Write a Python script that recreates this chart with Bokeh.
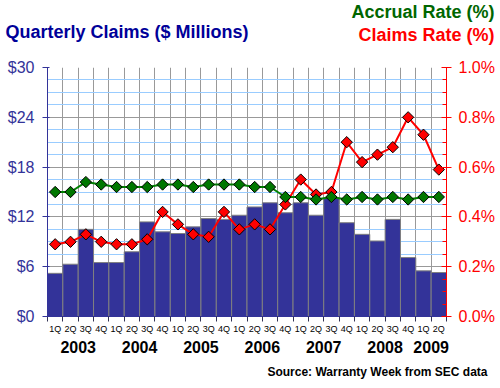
from bokeh.plotting import figure
from bokeh.models import (Range1d, LinearAxis, FixedTicker, PrintfTickFormatter, Title)
from bokeh.embed import file_html
from bokeh.resources import INLINE

# ---- data ----
quarters = ["1Q", "2Q", "3Q", "4Q"] * 6 + ["1Q", "2Q"]
years = ["2003", "2004", "2005", "2006", "2007", "2008", "2009"]
year_centres = [2, 6, 10, 14, 18, 22, 25]
claims = [5.2, 6.3, 10.5, 6.5, 6.5, 7.8, 11.4, 10.2, 10.0, 10.8, 11.8, 11.7, 12.2,
          13.2, 13.7, 12.5, 13.7, 12.2, 14.3, 11.3, 9.9, 9.1, 11.7, 7.1, 5.5, 5.3]
accrual_rate = [0.50, 0.50, 0.54, 0.53, 0.52, 0.52, 0.52, 0.53, 0.53, 0.52, 0.53, 0.53, 0.53,
                0.52, 0.52, 0.48, 0.48, 0.47, 0.48, 0.47, 0.48, 0.47, 0.48, 0.47, 0.48, 0.48]
claims_rate = [0.29, 0.30, 0.33, 0.30, 0.29, 0.29, 0.31, 0.42, 0.37, 0.33, 0.32, 0.42, 0.35,
               0.37, 0.35, 0.45, 0.55, 0.49, 0.50, 0.70, 0.62, 0.65, 0.68, 0.80, 0.73, 0.59]
left_ticks = [0, 6, 12, 18, 24, 30]
right_ticks = [0.0, 0.2, 0.4, 0.6, 0.8, 1.0]

n = len(claims)
xc = [i + 0.5 for i in range(n)]
FONT = "Liberation Sans"

p = figure(frame_width=399, frame_height=249, output_backend="svg", toolbar_location=None,
           title=None, x_range=Range1d(0, n), y_range=Range1d(0, 30),
           min_border_left=47, min_border_right=54, min_border_top=67, min_border_bottom=72,
           background_fill_color="white", border_fill_color="white")
p.outline_line_color = None
p.extra_y_ranges = {"rate": Range1d(0, 1.0)}

# grids
p.ygrid.ticker = FixedTicker(ticks=left_ticks, minor_ticks=[x * 1.5 for x in range(21)])
p.ygrid.grid_line_color = "#999999"
p.ygrid.minor_grid_line_color = "#99CCFF"
p.xgrid.ticker = FixedTicker(ticks=list(range(n + 1)))
p.xgrid.grid_line_color = "#999999"

# bars
p.vbar(x=xc, top=claims, width=1.0, fill_color="#333399", line_color="#808080", line_width=1)

# rate lines
p.line(xc, claims_rate, y_range_name="rate", line_color="#FF0000", line_width=2)
p.scatter(xc, claims_rate, y_range_name="rate", marker="square", angle=0.785398, size=8,
          fill_color="#FF0000", line_color="black", line_width=1)
p.line(xc, accrual_rate, y_range_name="rate", line_color="#008000", line_width=2)
p.scatter(xc, accrual_rate, y_range_name="rate", marker="square", angle=0.785398, size=8,
          fill_color="#007700", line_color="black", line_width=1)

# left axis
ya = p.yaxis[0]
ya.ticker = FixedTicker(ticks=left_ticks, minor_ticks=[])
ya.formatter = PrintfTickFormatter(format="$%d")
ya.major_label_text_font = FONT
ya.major_label_text_font_size = "16px"
ya.major_label_text_color = "#333399"
ya.axis_line_color = "#333399"
ya.major_tick_line_color = "#333399"
ya.major_tick_out = 5
ya.major_tick_in = 2
ya.major_label_standoff = 8

# right axis
ra = LinearAxis(y_range_name="rate")
ra.ticker = FixedTicker(ticks=right_ticks, minor_ticks=[x * 0.05 for x in range(21)])
ra.formatter = PrintfTickFormatter(format="%.1f%%")
ra.major_label_text_font = FONT
ra.major_label_text_font_size = "16px"
ra.major_label_text_color = "#FF0000"
ra.axis_line_color = "#FF0000"
ra.major_tick_line_color = "#FF0000"
ra.minor_tick_line_color = "#FF0000"
ra.major_tick_out = 5
ra.major_tick_in = 5
ra.minor_tick_in = 4
ra.minor_tick_out = 0
ra.major_label_standoff = 7
p.add_layout(ra, "right")

# bottom axis: quarter labels at centres, tick marks at boundaries
xa = p.xaxis[0]
xa.ticker = FixedTicker(ticks=xc, minor_ticks=list(range(n + 1)))
xa.major_label_overrides = {x: q for x, q in zip(xc, quarters)}
xa.major_label_text_font = FONT
xa.major_label_text_font_size = "9px"
xa.major_label_text_color = "black"
xa.axis_line_color = "#333399"
xa.major_tick_line_color = None
xa.major_tick_out = 5
xa.major_label_standoff = 2
xa.minor_tick_line_color = "#333355"
xa.minor_tick_out = 5
xa.minor_tick_in = 0

# year axis
yr_axis = LinearAxis(ticker=FixedTicker(ticks=year_centres, minor_ticks=[]),
                     major_label_overrides={c: y for c, y in zip(year_centres, years)})
yr_axis.axis_line_color = None
yr_axis.major_tick_line_color = None
yr_axis.major_tick_out = 0
yr_axis.major_tick_in = 0
yr_axis.major_label_standoff = 4
yr_axis.major_label_text_font = FONT
yr_axis.major_label_text_font_size = "16px"
yr_axis.major_label_text_font_style = "bold"
yr_axis.major_label_text_color = "black"
p.add_layout(yr_axis, "below")

# source
p.add_layout(Title(text="Source: Warranty Week from SEC data", align="right", standoff=15,
                   offset=-41, text_font=FONT, text_font_size="12px", text_font_style="bold",
                   text_color="black"), "below")

# titles (first added is nearest to the plot)
p.add_layout(Title(text="Claims Rate (%)", align="right", standoff=45, offset=-48,
                   text_font=FONT, text_font_size="18px", text_font_style="bold",
                   text_color="#FF0000"), "above")
p.add_layout(Title(text="Accrual Rate (%)", align="right", standoff=-42, offset=-48,
                   text_font=FONT, text_font_size="18px", text_font_style="bold",
                   text_color="#006600"), "above")
p.add_layout(Title(text="Quarterly Claims ($ Millions)", align="left", standoff=-83, offset=-42,
                   text_font=FONT, text_font_size="18px", text_font_style="bold",
                   text_color="#000099"), "above")

open("out.html", "w").write(file_html(p, INLINE))
